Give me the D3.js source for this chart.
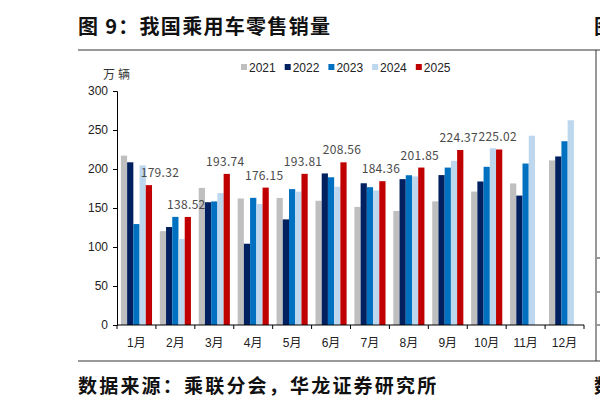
<!DOCTYPE html>
<html>
<head>
<meta charset="utf-8">
<script src="https://cdn.jsdelivr.net/npm/d3@7"></script>
<style>
  body { margin: 0; background: #fff; }
  svg { display: block; }
</style>
</head>
<body>
<div class="chart"></div>
<script>
// months and yearly series (万辆)
var months = ["1月","2月","3月","4月","5月","6月","7月","8月","9月","10月","11月","12月"];
var years = ["2021","2022","2023","2024","2025"];
var s2021 = [217.1, 120.3, 175.8, 162.2, 162.9, 159.3, 151.4, 146.2, 158.5, 171.1, 181.5, 211.0];
var s2022 = [208.6, 125.6, 157.4, 104.2, 135.4, 194.3, 181.7, 187.0, 192.2, 184.0, 165.9, 216.1];
var s2023 = [129.4, 138.6, 158.4, 163.0, 174.2, 189.4, 176.7, 192.0, 201.8, 202.8, 207.0, 235.6];
var s2024 = [204.7, 110.2, 169.1, 155.2, 171.0, 177.2, 172.6, 190.5, 210.5, 226.6, 242.7, 262.5];
var s2025 = [179.32, 138.52, 193.74, 176.15, 193.81, 208.56, 184.36, 201.85, 224.37, 225.02, null, null];
var yTicks = [0, 50, 100, 150, 200, 250, 300];
var colors = ["#bfbfbf", "#002060", "#0070c0", "#bdd7ee", "#c00000"];

var series = [s2021, s2022, s2023, s2024, s2025];

var W = 600, H = 407;
var svg = d3.select("div.chart").append("svg")
            .attr("width", W)
            .attr("height", H);

var cjk = "'Noto Sans CJK SC', sans-serif";
var latin = "'Liberation Sans', Arial, 'Noto Sans CJK SC', sans-serif";

// frame: title, rules, edge of the neighbouring chart
svg.append("text")
   .attr("x", 78).attr("y", 34)
   .attr("font-family", cjk).attr("font-weight", "bold")
   .attr("font-size", 20).attr("letter-spacing", 1.3).attr("fill", "#111")
   .text("图 9：我国乘用车零售销量");
svg.append("text")
   .attr("x", 594).attr("y", 34)
   .attr("font-family", cjk).attr("font-weight", "bold")
   .attr("font-size", 20).attr("fill", "#111")
   .text("图");

svg.append("line").attr("x1", 78).attr("x2", 600).attr("y1", 50).attr("y2", 50)
   .attr("stroke", "#777").attr("stroke-width", 1.5);
svg.append("line").attr("x1", 78).attr("x2", 600).attr("y1", 361).attr("y2", 361)
   .attr("stroke", "#777").attr("stroke-width", 1.5);
svg.append("line").attr("x1", 596).attr("x2", 596).attr("y1", 50).attr("y2", 361)
   .attr("stroke", "#333").attr("stroke-width", 1);
[258, 292, 325].forEach(function(t){
  svg.append("line").attr("x1", 597).attr("x2", 600).attr("y1", t).attr("y2", t)
     .attr("stroke", "#333").attr("stroke-width", 1);
});

svg.append("text")
   .attr("x", 78).attr("y", 393)
   .attr("font-family", cjk).attr("font-weight", "bold")
   .attr("font-size", 19).attr("letter-spacing", 2.2).attr("fill", "#111")
   .text("数据来源：乘联分会，华龙证券研究所");
svg.append("text")
   .attr("x", 594).attr("y", 393)
   .attr("font-family", cjk).attr("font-weight", "bold")
   .attr("font-size", 19).attr("fill", "#111")
   .text("数");

// scales
var x0 = d3.scaleBand().domain(months).range([117, 584])
           .paddingInner(0.2).paddingOuter(0.1);
var x1 = d3.scaleBand().domain(years).range([0, x0.bandwidth()]);
var y = d3.scaleLinear().domain([0, 300]).range([325, 91]);

// bars
var groups = svg.selectAll(".month")
    .data(months)
    .enter()
    .append("g")
    .attr("transform", function(d){ return "translate(" + x0(d) + ",0)"; });

groups.selectAll("rect")
    .data(function(d, i){
      return years.map(function(yr, k){ return {year: yr, k: k, v: series[k][i]}; })
                  .filter(function(e){ return e.v != null; });
    })
    .enter()
    .append("rect")
    .attr("x", function(e){ return x1(e.year); })
    .attr("width", x1.bandwidth())
    .attr("y", function(e){ return y(e.v); })
    .attr("height", function(e){ return y(0) - y(e.v); })
    .attr("fill", function(e){ return colors[e.k]; });

// 2025 labels
svg.selectAll(".lbl")
    .data(months.map(function(m, i){ return {m: m, i: i, v: s2025[i]}; })
                .filter(function(d){ return d.v != null; }))
    .enter()
    .append("text")
    .attr("x", function(d){
      var cx = x0(d.m) + x1("2025") + x1.bandwidth() / 2;
      return d.i === 0 ? cx + 11 : cx - 1.5;   // jan label sits right of the 2024 bar
    })
    .attr("y", function(d){ return y(d.v) - 8; })
    .attr("text-anchor", "middle")
    .attr("font-family", cjk).attr("font-size", 12)
    .attr("letter-spacing", 0.3)
    .attr("fill", "#4a4a4a")
    .text(function(d){ return d.v.toFixed(2); });

// y axis
var yAxis = svg.append("g")
    .attr("transform", "translate(117,0)")
    .call(d3.axisLeft(y).tickValues(yTicks).tickSize(4).tickPadding(5));
yAxis.select(".domain").attr("stroke", "#000");
yAxis.selectAll(".tick line").attr("stroke", "#000");
yAxis.selectAll("text").attr("font-family", latin).attr("font-size", 12).attr("fill", "#222");

// x axis
var xAxis = svg.append("g").attr("transform", "translate(0,325)");
xAxis.append("line").attr("x1", 117).attr("x2", 584).attr("y1", 0).attr("y2", 0)
     .attr("stroke", "#000");
xAxis.selectAll(".xt")
     .data(d3.range(months.length + 1))
     .enter()
     .append("line")
     .attr("x1", function(i){ return 117 + i * x0.step(); })
     .attr("x2", function(i){ return 117 + i * x0.step(); })
     .attr("y1", 0).attr("y2", 4)
     .attr("stroke", "#000");
xAxis.selectAll(".xl")
     .data(months)
     .enter()
     .append("text")
     .attr("x", function(d){ return x0(d) + x0.bandwidth() / 2; })
     .attr("y", 22)
     .attr("text-anchor", "middle")
     .attr("font-family", latin).attr("font-size", 12)
     .attr("fill", "#222")
     .text(function(d){ return d; });

// unit
svg.append("text")
   .attr("x", 103).attr("y", 79)
   .attr("font-family", cjk).attr("font-size", 12)
   .attr("letter-spacing", 3)
   .attr("fill", "#333")
   .text("万辆");

// legend
var leg = svg.selectAll(".leg")
    .data(years)
    .enter()
    .append("g")
    .attr("transform", function(d, i){ return "translate(" + (241 + i * 43.7) + ",64)"; });
leg.append("rect").attr("width", 6).attr("height", 6)
   .attr("fill", function(d, i){ return colors[i]; });
leg.append("text").attr("x", 8).attr("y", 7.5)
   .attr("font-family", latin).attr("font-size", 12)
   .attr("fill", "#222")
   .text(function(d){ return d; });
</script>
</body>
</html>
